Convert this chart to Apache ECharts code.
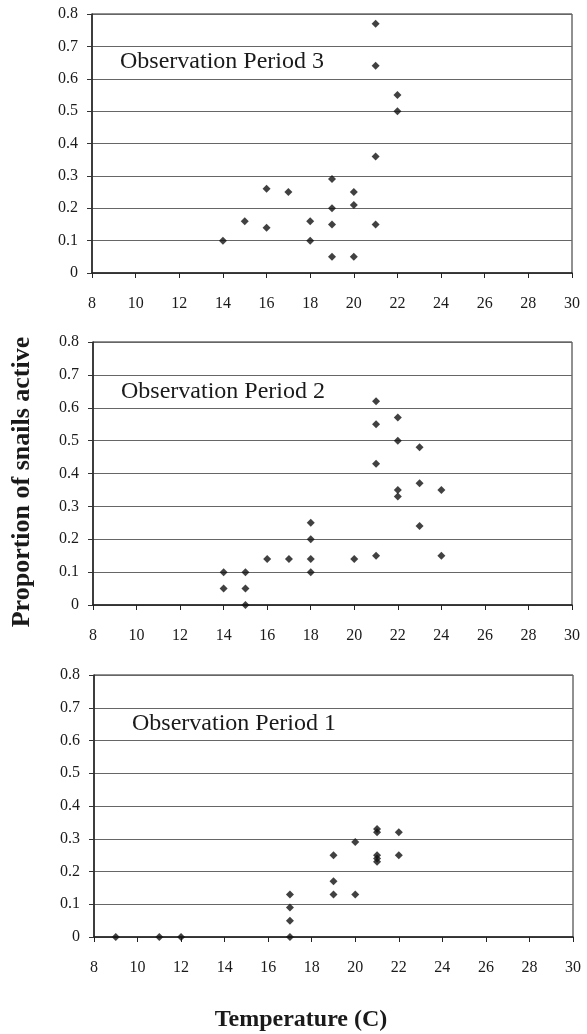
<!DOCTYPE html>
<html>
<head>
<meta charset="utf-8">
<title>Proportion of snails active vs temperature</title>
<script src="https://cdn.jsdelivr.net/npm/echarts@6/dist/echarts.min.js"></script>
<style>
  html, body { margin: 0; padding: 0; background: #fff; }
  #chart { width: 587px; height: 1034px; }
</style>
</head>
<body>
<div id="chart"></div>
<script>
// temperature ticks and proportion ticks
const tempTicks = [8, 10, 12, 14, 16, 18, 20, 22, 24, 26, 28, 30];
const propTicks = [0, 0.1, 0.2, 0.3, 0.4, 0.5, 0.6, 0.7, 0.8];

// Observation Period 3 (top panel)
const period3Temp = [14, 15, 16, 16, 17, 18, 18, 19, 19, 19, 19, 20, 20, 20, 21, 21, 21, 21, 22, 22];
const period3Prop = [0.10, 0.16, 0.26, 0.14, 0.25, 0.16, 0.10, 0.29, 0.20, 0.15, 0.05, 0.25, 0.21, 0.05, 0.77, 0.64, 0.36, 0.15, 0.55, 0.50];

// Observation Period 2 (middle panel)
const period2Temp = [14, 14, 15, 15, 15, 16, 17, 18, 18, 18, 18, 20, 21, 21, 21, 21, 22, 22, 22, 22, 23, 23, 23, 24, 24];
const period2Prop = [0.10, 0.05, 0.10, 0.05, 0.00, 0.14, 0.14, 0.25, 0.20, 0.14, 0.10, 0.14, 0.62, 0.55, 0.43, 0.15, 0.57, 0.50, 0.35, 0.33, 0.48, 0.37, 0.24, 0.35, 0.15];

// Observation Period 1 (bottom panel)
const period1Temp = [9, 11, 12, 17, 17, 17, 17, 19, 19, 19, 20, 20, 21, 21, 21, 21, 21, 22, 22];
const period1Prop = [0, 0, 0, 0, 0.05, 0.09, 0.13, 0.13, 0.17, 0.25, 0.13, 0.29, 0.33, 0.32, 0.25, 0.24, 0.23, 0.32, 0.25];

const panelNames = ['Observation Period 3', 'Observation Period 2', 'Observation Period 1'];

const pairs = (xs, ys) => xs.map((x, i) => [x, ys[i]]);
const panelData = [
  pairs(period3Temp, period3Prop),
  pairs(period2Temp, period2Prop),
  pairs(period1Temp, period1Prop)
];

const serif = '"Liberation Serif", "DejaVu Serif", serif';
const ink = '#1a1a1a';

// panel boxes (pixels)
const grids = [
  { left: 92, right: 15, top: 14, height: 259 },
  { left: 93, right: 15, top: 342, height: 263 },
  { left: 94, right: 14, top: 675, height: 262 }
];
const titlePos = [
  { left: 120, top: 50 },
  { left: 121, top: 380 },
  { left: 132, top: 712 }
];

const chart = echarts.init(document.getElementById('chart'));

const option = {
  backgroundColor: '#fff',
  animation: false,
  title: panelNames.map((name, i) => ({
    text: name,
    left: titlePos[i].left,
    top: titlePos[i].top,
    padding: 0,
    textStyle: { fontFamily: serif, fontSize: 24, fontWeight: 'normal', color: ink }
  })),
  grid: grids.map(g => Object.assign({
    show: true,
    borderColor: '#222',
    borderWidth: 1,
    backgroundColor: 'transparent'
  }, g)),
  xAxis: grids.map((g, i) => ({
    type: 'value',
    gridIndex: i,
    min: tempTicks[0],
    max: tempTicks[tempTicks.length - 1],
    interval: 2,
    axisLine: { onZero: false, lineStyle: { color: '#222', width: 1.5 } },
    axisTick: { show: true, inside: false, length: 5, lineStyle: { color: '#222' } },
    axisLabel: { margin: 23, fontFamily: serif, fontSize: 16, color: ink },
    splitLine: { show: false }
  })),
  yAxis: grids.map((g, i) => ({
    type: 'value',
    gridIndex: i,
    min: propTicks[0],
    max: propTicks[propTicks.length - 1],
    interval: 0.1,
    axisLine: { show: true, lineStyle: { color: '#222', width: 1.5 } },
    axisTick: { show: true, inside: false, length: 5, lineStyle: { color: '#333' } },
    axisLabel: { margin: 14, fontFamily: serif, fontSize: 16, color: ink },
    splitLine: { show: true, lineStyle: { color: '#666', width: 1 } }
  })),
  series: panelData.map((d, i) => ({
    type: 'scatter',
    name: panelNames[i],
    xAxisIndex: i,
    yAxisIndex: i,
    data: d,
    symbol: 'diamond',
    symbolSize: [8, 8],
    itemStyle: { color: '#111' }
  })),
  // axis titles placed as free text
  graphic: [
    {
      type: 'text',
      rotation: Math.PI / 2,
      x: 22,
      y: 482,
      style: {
        text: 'Proportion of snails active',
        font: 'bold 26px ' + serif,
        fill: ink,
        align: 'center',
        verticalAlign: 'middle'
      }
    },
    {
      type: 'text',
      x: 301,
      y: 1020,
      style: {
        text: 'Temperature (C)',
        font: 'bold 24px ' + serif,
        fill: ink,
        align: 'center',
        verticalAlign: 'middle'
      }
    }
  ]
};

chart.setOption(option);
</script>
</body>
</html>
